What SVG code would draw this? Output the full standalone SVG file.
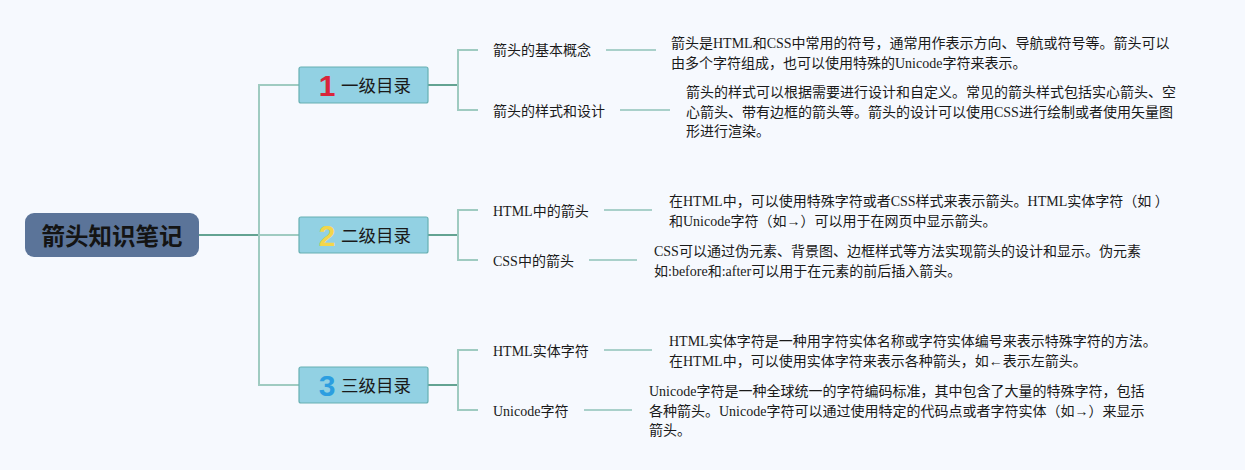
<svg xmlns="http://www.w3.org/2000/svg" width="1245" height="470" viewBox="0 0 1245 470">
<style>
.t{font-family:"Liberation Serif","Noto Sans CJK SC",serif;font-size:14px;fill:#1a1a1a}
.l1{font-family:"Noto Sans CJK SC","Noto Sans",sans-serif;font-size:17.5px;fill:#1a1a1a}
.num{font-family:"Liberation Sans","Noto Sans",sans-serif;font-size:30px;font-weight:bold}
.n1{fill:#92d1e3;stroke:#67b0b2;stroke-width:1.2}
.dk{stroke:#63a392;stroke-width:2;fill:none}
.lt{stroke:#9fcbc1;stroke-width:2;fill:none}
.lf{stroke:#a9d0ca;stroke-width:2;fill:none}
</style>
<rect x="0" y="0" width="1245" height="470" fill="#f6f9fe"/>
<g id="connectors">
<path class="dk" d="M199 235H259"/>
<path class="lt" d="M299 85H259V385H299M259 235H299"/>
<path class="dk" d="M428 85H458M428 235H458M428 385H458"/>
<path class="lt" d="M478 50H458V110H478M478 210H458V260H478M478 350H458V410H478"/>
<path class="lf" d="M606 50H656M620 110H670M604 210H652M589 260H637M604 350H652M584 410H632"/>
</g>
<g id="root">
<rect x="25" y="213" width="174" height="44" rx="9" fill="#5b7499"/>
<text x="112" y="244.5" text-anchor="middle" style="font-family:'Noto Sans CJK SC',sans-serif;font-size:23.5px;font-weight:bold;fill:#141414">箭头知识笔记</text>
</g>
<g id="level1-1">
<rect class="n1" x="299" y="67" width="129" height="36" rx="2"/>
<text class="num" x="327" y="96" text-anchor="middle" fill="#d9253a">1</text>
<text class="l1" x="341" y="91.5">一级目录</text>
</g>
<g id="level1-2">
<rect class="n1" x="299" y="217" width="129" height="36" rx="2"/>
<text class="num" x="327" y="246" text-anchor="middle" fill="#f3d64a">2</text>
<text class="l1" x="341" y="241.5">二级目录</text>
</g>
<g id="level1-3">
<rect class="n1" x="299" y="367" width="129" height="36" rx="2"/>
<text class="num" x="327" y="396" text-anchor="middle" fill="#2c9ee0">3</text>
<text class="l1" x="341" y="391.5">三级目录</text>
</g>
<g id="leaf-1-1">
<text class="t" x="493" y="55">箭头的基本概念</text>
<text class="t" x="671" y="48">箭头是HTML和CSS中常用的符号，通常用作表示方向、导航或符号等。箭头可以</text>
<text class="t" x="671" y="67.5">由多个字符组成，也可以使用特殊的Unicode字符来表示。</text>
</g>
<g id="leaf-1-2">
<text class="t" x="493" y="116">箭头的样式和设计</text>
<text class="t" x="686" y="97">箭头的样式可以根据需要进行设计和自定义。常见的箭头样式包括实心箭头、空</text>
<text class="t" x="686" y="116.5">心箭头、带有边框的箭头等。箭头的设计可以使用CSS进行绘制或者使用矢量图</text>
<text class="t" x="686" y="136">形进行渲染。</text>
</g>
<g id="leaf-2-1">
<text class="t" x="493" y="216">HTML中的箭头</text>
<text class="t" x="669" y="206">在HTML中，可以使用特殊字符或者CSS样式来表示箭头。HTML实体字符（如 ）</text>
<text class="t" x="669" y="225.5">和Unicode字符（如→）可以用于在网页中显示箭头。</text>
</g>
<g id="leaf-2-2">
<text class="t" x="493" y="266">CSS中的箭头</text>
<text class="t" x="654" y="256">CSS可以通过伪元素、背景图、边框样式等方法实现箭头的设计和显示。伪元素</text>
<text class="t" x="654" y="275.5">如:before和:after可以用于在元素的前后插入箭头。</text>
</g>
<g id="leaf-3-1">
<text class="t" x="493" y="356">HTML实体字符</text>
<text class="t" x="669" y="346">HTML实体字符是一种用字符实体名称或字符实体编号来表示特殊字符的方法。</text>
<text class="t" x="669" y="365.5">在HTML中，可以使用实体字符来表示各种箭头，如←表示左箭头。</text>
</g>
<g id="leaf-3-2">
<text class="t" x="493" y="416">Unicode字符</text>
<text class="t" x="649" y="396">Unicode字符是一种全球统一的字符编码标准，其中包含了大量的特殊字符，包括</text>
<text class="t" x="649" y="415.5">各种箭头。Unicode字符可以通过使用特定的代码点或者字符实体（如→）来显示</text>
<text class="t" x="649" y="435">箭头。</text>
</g>
</svg>
